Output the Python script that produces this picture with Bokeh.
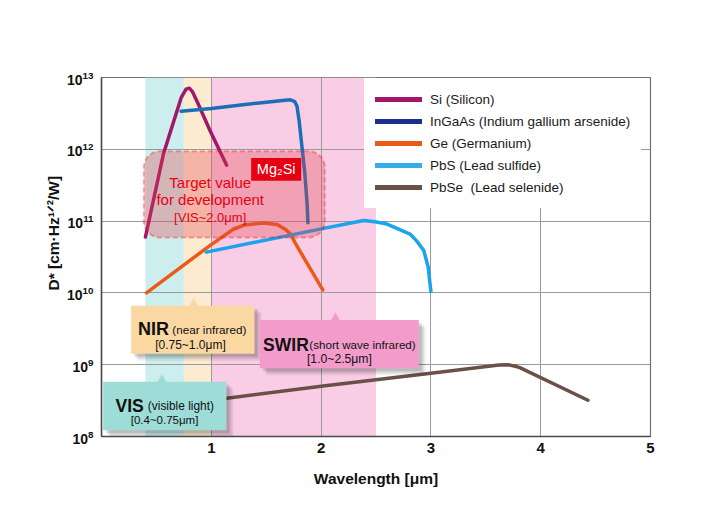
import math
from bokeh.plotting import figure
from bokeh.models import (BoxAnnotation, Label, Legend, LegendItem, FixedTicker,
                          Range1d, LogTickFormatter, Title)
from bokeh.embed import file_html
from bokeh.resources import INLINE

# ---------------- data ----------------
si_wl = [0.40, 0.565, 0.727, 0.77, 0.80, 0.83, 0.88, 0.99, 1.14]
si_d = [6.0e10, 8.7e11, 5.3e12, 6.9e12, 7.1e12, 6.3e12, 4.3e12, 1.8e12, 6.0e11]

ingaas_wl = [0.725, 1.0, 1.25, 1.48, 1.65, 1.72, 1.76, 1.78, 1.80, 1.82, 1.85, 1.873, 1.88]
ingaas_d = [3.4e12, 3.7e12, 4.1e12, 4.5e12, 4.8e12, 4.9e12, 4.6e12, 4.0e12, 2.5e12, 1.3e12, 5.0e11, 1.7e11, 9.5e10]

ge_wl = [0.41, 0.99, 1.20, 1.30, 1.47, 1.60, 1.68, 1.72, 1.78, 2.015]
ge_d = [1.0e10, 4.6e10, 7.7e10, 8.8e10, 9.4e10, 9.0e10, 7.6e10, 6.6e10, 4.5e10, 1.1e10]

pbs_wl = [0.955, 2.0, 2.389, 2.49, 2.60, 2.69, 2.81, 2.87, 2.935, 2.975, 3.0]
pbs_d = [3.7e10, 7.8e10, 1.02e11, 9.8e10, 9.1e10, 7.9e10, 6.6e10, 5.3e10, 3.9e10, 2.3e10, 1.05e10]

pbse_wl = [1.0, 2.0, 3.0, 3.62, 3.70, 3.76, 3.81, 4.43]
pbse_d = [3.2e8, 5.0e8, 7.6e8, 9.9e8, 1.0e9, 9.6e8, 9.1e8, 3.2e8]

series_names = ["Si (Silicon)", "InGaAs (Indium gallium arsenide)", "Ge (Germanium)",
                "PbS (Lead sulfide)", "PbSe  (Lead selenide)"]
line_colors = ["#a3176b", "#1c6eb5", "#ec5a17", "#1aa3ee", "#6a5147"]
legend_colors = ["#a3176b", "#1b2f8c", "#ec5a17", "#35ade6", "#6a5147"]

x_ticks = [1, 2, 3, 4, 5]
y_ticks = [1e8, 1e9, 1e10, 1e11, 1e12, 1e13]

bands = [(0.4, 0.75, "#cdeeee"), (0.75, 1.0, "#fdebd1"), (1.0, 2.5, "#f9cde6")]

SANS = "'Liberation Sans', Arial, sans-serif"

# ---------------- figure ----------------
p = figure(width=704, height=493, x_range=Range1d(0, 5), y_range=Range1d(1e8, 1e13),
           y_axis_type="log", output_backend="svg", toolbar_location=None,
           min_border_left=101, min_border_right=54, min_border_top=77, min_border_bottom=57)
p.background_fill_color = "white"
p.border_fill_color = "white"
p.outline_line_color = "#6f6f6f"
p.outline_line_width = 1.2

for l, r, c in bands:
    p.add_layout(BoxAnnotation(left=l, right=r, fill_color=c, fill_alpha=1.0,
                               line_alpha=0, level="image"))

p.xaxis.ticker = FixedTicker(ticks=x_ticks)
p.yaxis.ticker = FixedTicker(ticks=y_ticks)
p.yaxis.formatter = LogTickFormatter()
p.xgrid.ticker = FixedTicker(ticks=[1, 2, 3, 4])
for g in (p.xgrid, p.ygrid):
    g.grid_line_color = "#9a9a9a"
    g.grid_line_width = 1

for ax in (p.xaxis, p.yaxis):
    ax.axis_line_color = "#4a4a4a"
    ax.axis_line_width = 1.5
    ax.major_tick_line_color = None
    ax.minor_tick_line_color = None
    ax.major_label_text_font = SANS
    ax.major_label_text_font_style = "bold"
    ax.major_label_text_color = "#111111"
p.xaxis.major_label_text_font_size = "15px"
p.yaxis.major_label_text_font_size = "14px"
p.xaxis.major_label_standoff = 0
p.yaxis.major_label_standoff = 2
p.xaxis.axis_label = "Wavelength [μm]"
p.xaxis.axis_label_text_font = SANS
p.xaxis.axis_label_text_font_style = "bold"
p.xaxis.axis_label_text_font_size = "15.5px"
p.xaxis.axis_label_text_color = "#111111"
p.xaxis.axis_label_standoff = 14

# y-axis title (placed to start level with the 10^10 tick, as in the source)
p.add_layout(Title(text="D* [cm·Hz¹ᐟ²/W]", align="left", offset=146, standoff=6,
                   text_font=SANS, text_font_style="bold", text_font_size="15.5px",
                   text_color="#111111"), "left")

# ---------------- curves ----------------
curves = [(si_wl, si_d), (ingaas_wl, ingaas_d), (ge_wl, ge_d), (pbs_wl, pbs_d), (pbse_wl, pbse_d)]
for (xs, ys), col in zip(curves, line_colors):
    p.line(xs, ys, line_color=col, line_width=3.5, line_cap="round", line_join="round")

# legend-only swatches (drawn outside the visible range)
items = []
for name, col in zip(series_names, legend_colors):
    r = p.line(x=[-1.0, -0.9], y=[1e7, 1e7], line_color=col, line_width=5, line_cap="round")
    items.append(LegendItem(label=name, renderers=[r]))
leg = Legend(items=items, location=(263, 228), padding=11, spacing=2,
             label_height=20, glyph_height=20, glyph_width=47, label_standoff=8,
             label_width=199, border_line_alpha=0, background_fill_color="white",
             background_fill_alpha=1.0, label_text_font=SANS,
             label_text_font_size="13.5px", label_text_color="#1a1a1a")
p.add_layout(leg)

# ---------------- annotations ----------------
def E(v):
    return 10 ** v

XPX = 1 / 109.8   # data units per pixel (x)
YPX = 1 / 71.7    # decades per pixel (y)


def lab(x, ylog, text, size, color="#111111", style="normal", align="left",
        baseline="alphabetic"):
    p.add_layout(Label(x=x, y=E(ylog), text=text, text_font=SANS,
                       text_font_size=f"{size}px", text_font_style=style,
                       text_color=color, text_align=align, text_baseline=baseline))


def callout(l, r, lb, lt, color, ptr_x):
    p.scatter([ptr_x], [E(lt)], marker="triangle", size=13, fill_color=color,
              line_color=None)
    for k, a in ((7, 0.07), (5, 0.09), (3, 0.12)):
        p.add_layout(BoxAnnotation(left=l + k * XPX, right=r + k * XPX,
                                   bottom=E(lb - k * YPX), top=E(lt - k * YPX),
                                   fill_color="black", fill_alpha=a, line_alpha=0))
    p.add_layout(BoxAnnotation(left=l, right=r, bottom=E(lb), top=E(lt),
                               fill_color=color, fill_alpha=1.0, line_alpha=0))


# Target value box
p.add_layout(BoxAnnotation(left=0.385, right=2.034, bottom=E(10.773), top=E(11.972),
                           fill_color="#e3424a", fill_alpha=0.32,
                           line_color="#e60012", line_width=2, line_dash="5 3",
                           border_radius=16))
p.add_layout(BoxAnnotation(left=1.363, right=1.819, bottom=E(11.563), top=E(11.88),
                           fill_color="#e60012", fill_alpha=1.0, line_alpha=0))
lab(1.591, 11.72, "Mg₂Si", 14.5, color="white", align="center", baseline="middle")
lab(0.99, 11.54, "Target value", 15, color="#e60012", align="center")
lab(0.99, 11.294, "for development", 15, color="#e60012", align="center")
lab(0.99, 11.05, "[VIS~2.0μm]", 13, color="#e60012", align="center")

# NIR
callout(0.270, 1.393, 9.152, 9.82, "#fbd8a2", 0.84)
lab(0.615, 9.495, "NIR", 18, style="bold", align="right")
lab(0.645, 9.495, "(near infrared)", 11.7)
lab(0.81, 9.28, "[0.75~1.0μm]", 12, align="center")

# SWIR
callout(1.442, 2.89, 8.951, 9.621, "#f39ccc", 2.13)
lab(1.888, 9.276, "SWIR", 17.5, style="bold", align="right")
lab(1.893, 9.276, "(short wave infrared)", 11.6)
lab(2.167, 9.08, "[1.0~2.5μm]", 12.2, align="center")

# VIS
callout(0.015, 1.138, 8.086, 8.764, "#9ddcd7", 0.55)
lab(0.385, 8.425, "VIS", 17.6, style="bold", align="right")
lab(0.422, 8.425, "(visible light)", 11.9)
lab(0.574, 8.226, "[0.4~0.75μm]", 11.5, align="center")

open("out.html", "w").write(file_html(p, INLINE))
